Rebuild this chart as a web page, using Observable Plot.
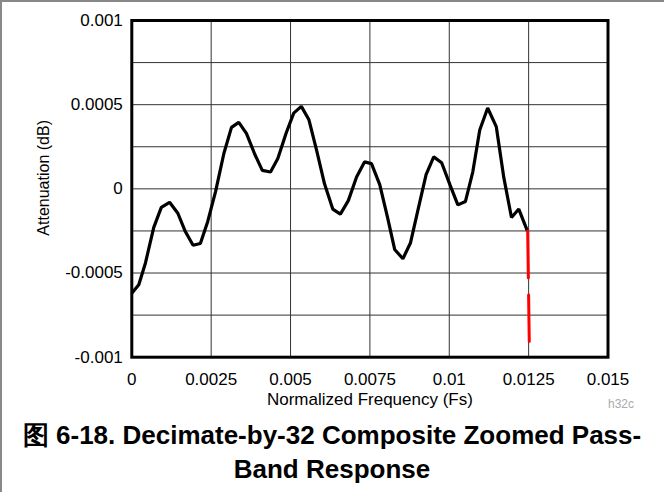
<!DOCTYPE html>
<html>
<head>
<meta charset="utf-8">
<script src="https://cdn.jsdelivr.net/npm/d3@7"></script>
<script src="https://cdn.jsdelivr.net/npm/@observablehq/plot@0.6"></script>
<style>
  html, body { margin: 0; padding: 0; background: #fff; }
  body { width: 664px; height: 492px; position: relative; overflow: hidden; font-family: "Liberation Sans", Arial, sans-serif; }
  #border { position: absolute; left: 0; top: 0; width: 664px; height: 492px; box-sizing: border-box; border-top: 2px solid #888; border-left: 2px solid #888; pointer-events: none; }
  #title { width: 664px; text-align: center; font-weight: bold; font-size: 26px; line-height: 34px; color: #000; }
  svg { display: block; }
</style>
</head>
<body>
<div id="chart"></div>
<div id="title">图 6-18. Decimate-by-32 Composite Zoomed Pass-<br>Band Response</div>
<div id="border"></div>
<script>
// Data
const freq = [0, 0.00022, 0.00043, 0.00069, 0.00093, 0.00119, 0.00145, 0.00169, 0.00193, 0.00216,
  0.00239, 0.00264, 0.0029, 0.00314, 0.00337, 0.00361, 0.00387, 0.00411, 0.00437, 0.0046,
  0.00486, 0.0051, 0.00534, 0.00558, 0.00582, 0.00607, 0.00633, 0.00657, 0.00682, 0.00708,
  0.00733, 0.00755, 0.00781, 0.00805, 0.00828, 0.00854, 0.00878, 0.00902, 0.00927, 0.00951,
  0.00976, 0.01002, 0.01027, 0.01051, 0.01074, 0.01096, 0.01121, 0.01148, 0.01172, 0.01196,
  0.01219, 0.01246];
const atten = [-0.00062, -0.00057, -0.00044, -0.00023, -0.00011, -0.00008, -0.000145, -0.000255, -0.000335, -0.000325,
  -0.000195, -0.000015, 0.00021, 0.000365, 0.000395, 0.00033, 0.000207, 0.00011, 0.0001, 0.00018,
  0.00033, 0.00045, 0.00049, 0.00041, 0.00023, 0.00003, -0.00012, -0.00015, -0.00007, 0.00007,
  0.00016, 0.00015, 0.000025, -0.000165, -0.00036, -0.000415, -0.00032, -0.00012, 0.000085, 0.00019,
  0.000155, 0.000025, -0.000095, -0.000075, 0.0001, 0.00035, 0.00048, 0.00037, 0.000065, -0.00017,
  -0.00012, -0.00025];
const redFreq = [0.01247, 0.01252];
const redAtten = [-0.00025, -0.000906];

const xTicks = [0, 0.0025, 0.005, 0.0075, 0.01, 0.0125, 0.015];
const xTickLabels = ["0", "0.0025", "0.005", "0.0075", "0.01", "0.0125", "0.015"];
const yTicks = [-0.001, -0.0005, 0, 0.0005, 0.001];
const yTickLabels = ["-0.001", "-0.0005", "0", "0.0005", "0.001"];
const xGrid = [0.0025, 0.005, 0.0075, 0.01, 0.0125];
const yGrid = [-0.00075, -0.0005, -0.00025, 0, 0.00025, 0.0005, 0.00075];
const xLabel = "Normalized Frequency (Fs)";
const yLabel = "Attenuation (dB)";
const codeLabel = "h32c";

const curve = freq.map((f, i) => ({f, a: atten[i]}));
const red = redFreq.map((f, i) => ({f, a: redAtten[i]}));

const chart = Plot.plot({
  width: 664,
  height: 418,
  marginLeft: 131.3,
  marginRight: 56.5,
  marginTop: 20,
  marginBottom: 61.3,
  style: { fontFamily: "'Liberation Sans', Arial, sans-serif", background: "transparent", color: "#000" },
  x: { domain: [0, 0.015] },
  y: { domain: [-0.001, 0.001] },
  marks: [
    Plot.gridX(xGrid, { stroke: "#333", strokeOpacity: 1, strokeWidth: 1 }),
    Plot.gridY(yGrid, { stroke: "#333", strokeOpacity: 1, strokeWidth: 1 }),
    Plot.axisX(xTicks, { tickSize: 0, tickPadding: 16, fontSize: 17, tickFormat: (d, i) => xTickLabels[i], label: null }),
    Plot.axisY(yTicks, { tickSize: 0, tickPadding: 9, fontSize: 17, tickFormat: (d, i) => yTickLabels[i], label: null }),
    Plot.line(curve, { x: "f", y: "a", stroke: "#000", strokeWidth: 3.2, strokeLinejoin: "miter", strokeLinecap: "butt" }),
    Plot.line(red, { x: "f", y: "a", stroke: "#ff0000", strokeWidth: 3, strokeDasharray: "47 17" }),
    Plot.frame({ stroke: "#000", strokeWidth: 3 }),
    Plot.text([xLabel], { frameAnchor: "bottom", lineAnchor: "top", dy: 36, fontSize: 17, fill: "#000" }),
    Plot.text([yLabel], { frameAnchor: "left", textAnchor: "middle", rotate: -90, dx: -88, dy: -11, fontSize: 16, fill: "#000" }),
    Plot.text([codeLabel], { frameAnchor: "bottom-right", textAnchor: "start", dx: 0, dy: 51, fontSize: 12, fill: "#aaa" })
  ]
});
document.getElementById("chart").appendChild(chart);
</script>
</body>
</html>
